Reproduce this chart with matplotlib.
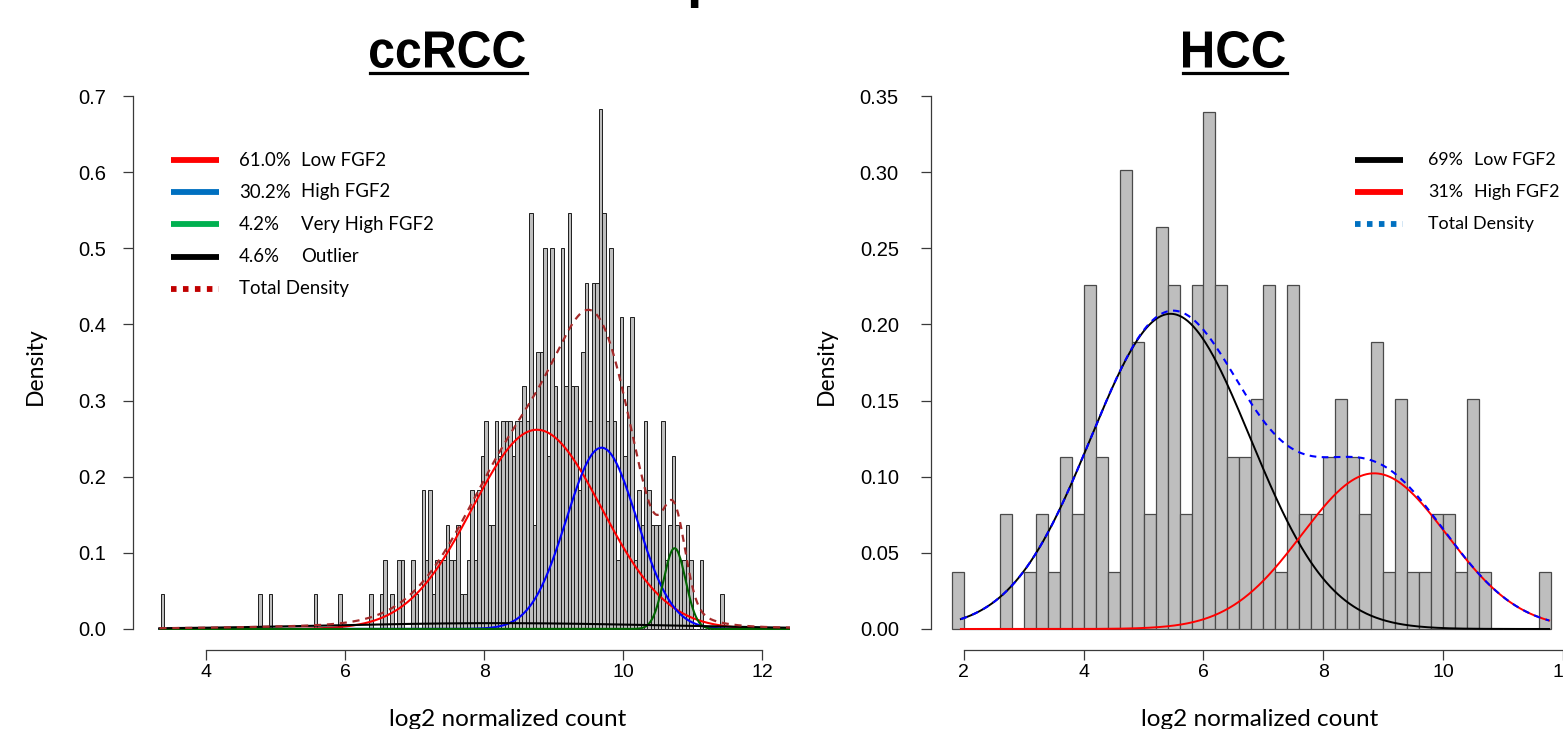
import numpy as np
import matplotlib

matplotlib.use("Agg")
import matplotlib.pyplot as plt
from matplotlib.font_manager import FontProperties
from matplotlib.lines import Line2D
from matplotlib.patches import PathPatch
from matplotlib.textpath import TextPath
from matplotlib.transforms import Affine2D

W, H = 1563, 729

# ccRCC histogram: counts per 0.05-wide bin starting at 3.35
rcc_bin_start = 3.35
rcc_bin_width = 0.05
rcc_density_per_count = 0.0455
rcc_counts = [
    1, 0, 0, 0, 0, 0, 0, 0, 0, 0, 0, 0, 0, 0, 0, 0, 0, 0, 0, 0,
    0, 0, 0, 0, 0, 0, 0, 0, 1, 0, 0, 1, 0, 0, 0, 0, 0, 0, 0, 0,
    0, 0, 0, 0, 1, 0, 0, 0, 0, 0, 0, 1, 0, 0, 0, 0, 0, 0, 0, 0,
    1, 0, 0, 1, 2, 0, 1, 0, 2, 2, 0, 0, 2, 1, 0, 4, 2, 4, 1, 2,
    2, 2, 3, 2, 2, 3, 1, 1, 2, 4, 2, 4, 5, 6, 3, 3, 6, 5, 6, 6,
    6, 5, 6, 6, 7, 6, 12, 3, 8, 8, 11, 5, 11, 7, 6, 11, 7, 12, 7, 7,
    4, 8, 10, 6, 10, 10, 15, 12, 6, 11, 6, 2, 9, 5, 7, 9, 2, 4, 3, 6,
    4, 3, 3, 3, 6, 2, 3, 5, 3, 2, 2, 3, 2, 0, 0, 2, 0, 0, 0, 0,
    0, 1,
]

# HCC histogram: counts per 0.2-wide bin starting at 1.8
hcc_bin_start = 1.8
hcc_bin_width = 0.2
hcc_density_per_count = 0.0377
hcc_counts = [
    1, 0, 0, 0, 2, 0, 1, 2, 1, 3, 2, 6, 3, 1, 8, 5, 2, 7, 6, 2,
    6, 9, 6, 3, 3, 4, 6, 1, 6, 2, 2, 3, 4, 3, 2, 5, 1, 4, 1, 1,
    2, 2, 1, 4, 1, 0, 0, 0, 0, 1,
]

# mixture components
rcc_pct = ["61.0%", "30.2%", "4.2%", "4.6%"]
rcc_names = ["Low FGF2", "High FGF2", "Very High FGF2", "Outlier"]
rcc_weights = [0.610, 0.302, 0.042, 0.046]
rcc_means = [8.76, 9.69, 10.74, 8.2]
rcc_sds = [0.93, 0.506, 0.158, 2.4]
rcc_curve_colors = ["#FF0000", "#0000FF", "#006400", "#000000"]
rcc_key_colors = ["#FF0000", "#0070C0", "#00B050", "#000000"]

hcc_pct = ["69%", "31%"]
hcc_names = ["Low FGF2", "High FGF2"]
hcc_weights = [0.69, 0.31]
hcc_means = [5.45, 8.85]
hcc_sds = [1.33, 1.21]
hcc_curve_colors = ["#000000", "#FF0000"]
hcc_key_colors = ["#000000", "#FF0000"]

TICK_FONT = ["Liberation Sans", "DejaVu Sans"]
TEXT_FONT = ["Lato", "DejaVu Sans"]
AXIS_GREY = "#3a3a3a"


def npdf(x, w, m, s):
    return w * np.exp(-0.5 * ((x - m) / s) ** 2) / (s * np.sqrt(2 * np.pi))


fig = plt.figure(figsize=(W / 100, H / 100), dpi=100)


def px_axes(left, top, right, bottom):
    return fig.add_axes([left / W, 1 - bottom / H, (right - left) / W, (bottom - top) / H])


def style_axes(ax, ymax, ystep, yfmt, xticks, ypad):
    for side in ("top", "right"):
        ax.spines[side].set_visible(False)
    ax.spines["left"].set_bounds(0, ymax)
    ax.spines["bottom"].set_position(("outward", 8.6))
    ax.spines["bottom"].set_bounds(xticks[0], xticks[-1])
    for side in ("left", "bottom"):
        ax.spines[side].set_color(AXIS_GREY)
        ax.spines[side].set_linewidth(0.9)
    yt = np.round(np.arange(0, ymax + ystep / 2, ystep), 3)
    ax.set_yticks(yt)
    ax.set_yticklabels([yfmt.format(v) for v in yt], family=TICK_FONT, fontsize=14.5)
    ax.set_xticks(xticks)
    ax.set_xticklabels([str(v) for v in xticks], family=TICK_FONT, fontsize=14)
    ax.tick_params(axis="y", direction="out", length=7.2, width=0.9, color=AXIS_GREY, pad=ypad)
    ax.tick_params(axis="x", direction="out", length=7.2, width=0.9, color=AXIS_GREY, pad=3)
    ax.patch.set_visible(False)


# ---- ccRCC panel ----
ax1 = px_axes(133, 96, 790, 638.1)
ax1.set_xlim(2.95, 12.40)
ax1.set_ylim(-0.012, 0.7)
edges = rcc_bin_start + rcc_bin_width * np.arange(len(rcc_counts))
ax1.bar(edges, np.array(rcc_counts) * rcc_density_per_count, width=rcc_bin_width,
        align="edge", color="#BEBEBE", edgecolor="#1e1e1e", linewidth=0.7)
xs = np.linspace(rcc_bin_start - 0.02, 12.6, 800)
total = np.zeros_like(xs)
for w, m, s, c in zip(rcc_weights, rcc_means, rcc_sds, rcc_curve_colors):
    yv = npdf(xs, w, m, s)
    total += yv
    ax1.plot(xs, yv, color=c, lw=1.5)
ax1.plot(xs, total, color="#A52A2A", lw=1.6, ls=(0, (3.2, 2.6)))
style_axes(ax1, 0.7, 0.1, "{:.1f}", [4, 6, 8, 10, 12], ypad=12)

# ---- HCC panel ----
ax2 = px_axes(931, 96, 1574.9, 638.1)
ax2.set_xlim(1.451, 12.2)
ax2.set_ylim(-0.006, 0.35)
edges = hcc_bin_start + hcc_bin_width * np.arange(len(hcc_counts))
ax2.bar(edges, np.array(hcc_counts) * hcc_density_per_count, width=hcc_bin_width,
        align="edge", color="#BEBEBE", edgecolor="#4a4a4a", linewidth=0.9)
xs = np.linspace(1.95, 11.77, 600)
total = np.zeros_like(xs)
for w, m, s, c in zip(hcc_weights, hcc_means, hcc_sds, hcc_curve_colors):
    yv = npdf(xs, w, m, s)
    total += yv
    ax2.plot(xs, yv, color=c, lw=1.4)
ax2.plot(xs, total, color="#0000FF", lw=1.5, ls=(0, (3.2, 2.6)))
style_axes(ax2, 0.35, 0.05, "{:.2f}", [2, 4, 6, 8, 10, 12], ypad=16)


# ---- titles: condensed bold, drawn as paths so they can be narrowed ----
def title_text(s, left, right, cap_top, baseline):
    tp = TextPath((0, 0), s, size=100, prop=FontProperties(family="Liberation Sans", weight="bold"))
    bb = tp.get_extents()
    sx = (right - left) / bb.width
    sy = (baseline - cap_top) / bb.y1
    tr = (Affine2D().translate(-bb.x0, 0).scale(sx, sy)
          .translate(left, H - baseline).scale(1 / W, 1 / H))
    fig.add_artist(PathPatch(tr.transform_path(tp), facecolor="black", lw=0,
                             transform=fig.transFigure))
    fig.add_artist(Line2D([left / W, (right + 2) / W], [1 - 72.5 / H] * 2,
                          color="black", lw=2.3, transform=fig.transFigure))


title_text("ccRCC", 370, 525, 31, 67.5)
title_text("HCC", 1183, 1285, 31, 67.5)

# descender of a cropped heading above the panels
fig.text(686 / W, 1 + 4 / H, "p", ha="left", va="baseline", family=TICK_FONT,
         fontweight="bold", fontsize=40)

for cx in (35, 826):
    fig.text(cx / W, 1 - 366 / H, "Density", rotation=90, ha="center", va="center",
             family=TEXT_FONT, fontsize=16.5)
for cx in (508, 1260):
    fig.text(cx / W, 1 - 726 / H, "log2 normalized count", ha="center", va="baseline",
             family=TEXT_FONT, fontsize=17.5)


# ---- legends ----
def key_line(x0, x1, y, color, dotted=False):
    ls = (0, (0.95, 1.1)) if dotted else "-"
    fig.add_artist(Line2D([x0 / W, x1 / W], [1 - y / H] * 2, color=color, lw=4.2,
                          ls=ls, solid_capstyle="butt", dash_capstyle="butt"))


def key_text(x, y, s, size):
    fig.text(x / W, 1 - y / H, s, ha="left", va="center", family=TEXT_FONT, fontsize=size)


rows_y = [160, 192, 224, 257, 289]
for i in range(4):
    key_line(171, 219, rows_y[i], rcc_key_colors[i])
    key_text(239, rows_y[i], rcc_pct[i], 13.4)
    key_text(301, rows_y[i], rcc_names[i], 13.4)
key_line(171, 219, rows_y[4], "#C00000", dotted=True)
key_text(239, rows_y[4], "Total Density", 13.4)

rows_y = [160, 192, 224]
for i in range(2):
    key_line(1355, 1403, rows_y[i], hcc_key_colors[i])
    key_text(1428, rows_y[i], hcc_pct[i], 12.9)
    key_text(1474, rows_y[i], hcc_names[i], 12.9)
key_line(1355, 1403, rows_y[2], "#0070C0", dotted=True)
key_text(1428, rows_y[2], "Total Density", 12.9)

fig.savefig("out.png", dpi=100)
